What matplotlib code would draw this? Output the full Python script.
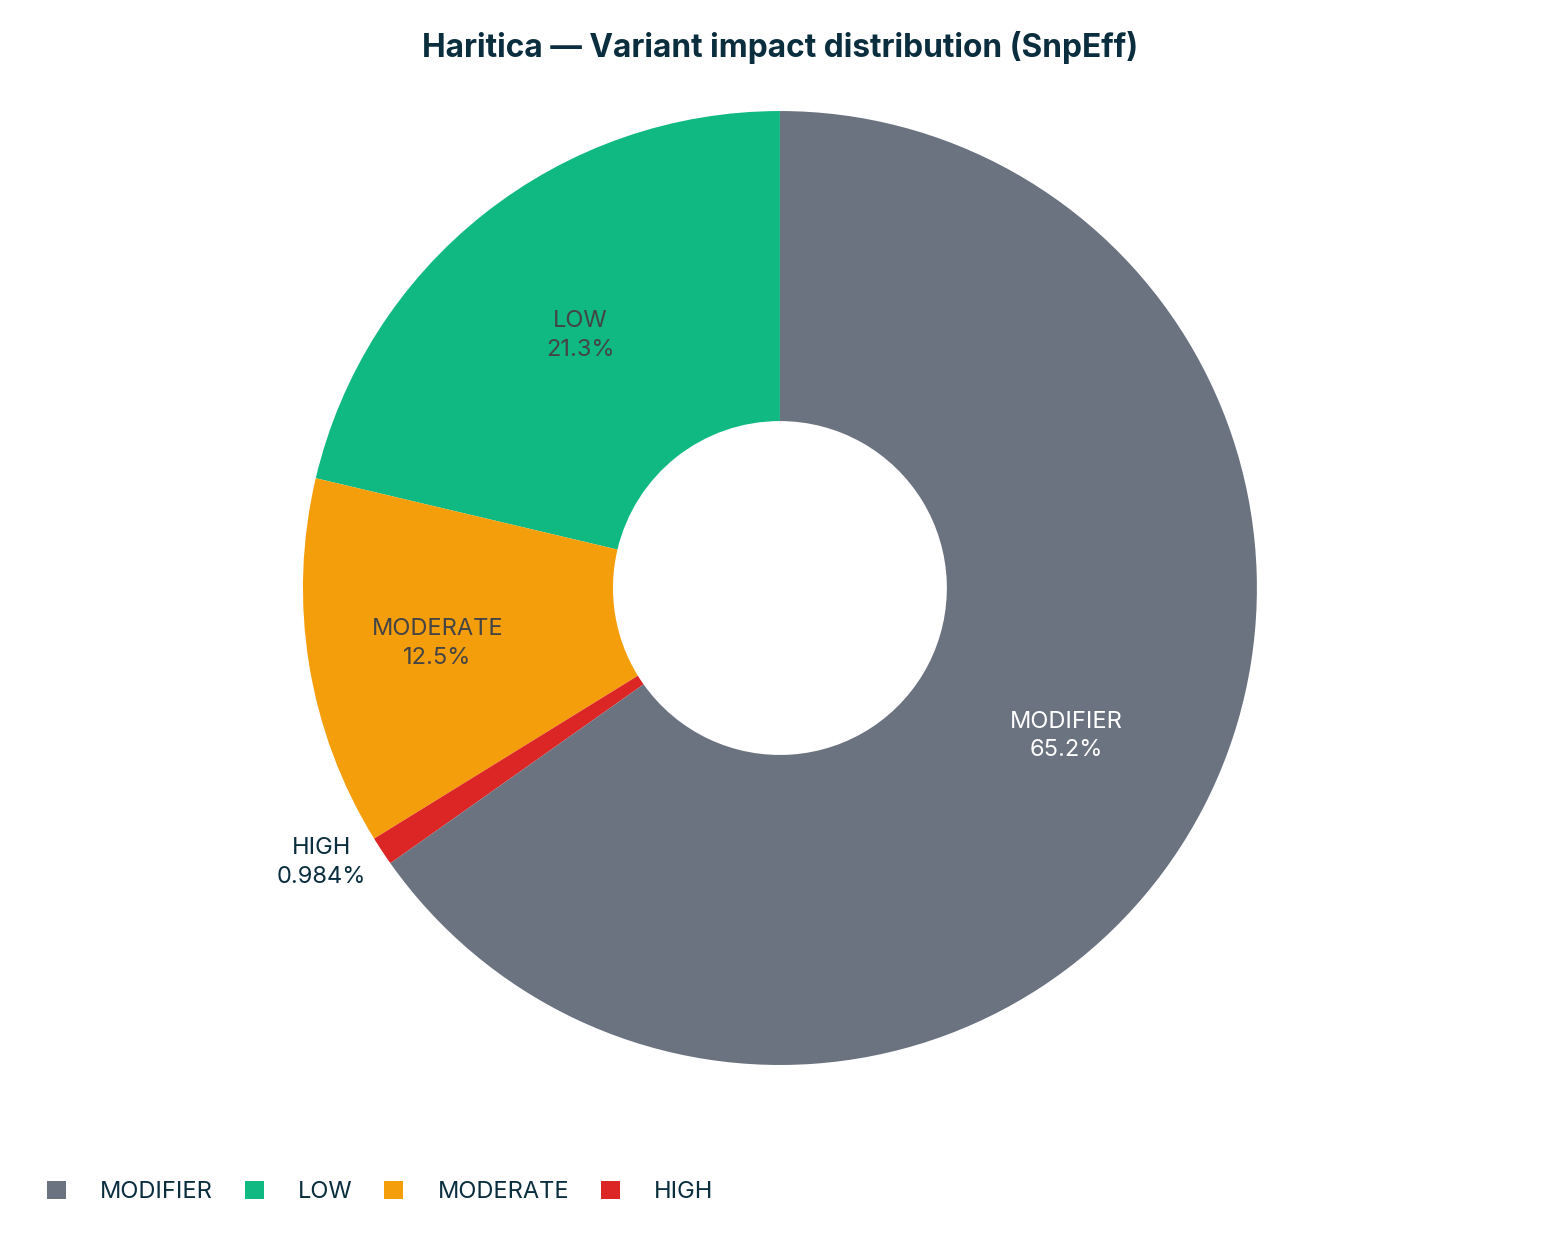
import numpy as np
import matplotlib

matplotlib.use("Agg")
import matplotlib.pyplot as plt
from matplotlib.patches import Patch

plt.rcParams["font.family"] = ["Inter", "DejaVu Sans"]

# ── Data (legend order)
labels = ["MODIFIER", "LOW", "MODERATE", "HIGH"]
shares = [65.2, 21.3, 12.5, 0.984]
pct_text = ["65.2%", "21.3%", "12.5%", "0.984%"]
colors = ["#6b7280", "#10b981", "#f59e0b", "#dc2626"]

# drawing order: counterclockwise from 12 o'clock
draw_order = [1, 2, 3, 0]

NAVY = "#0b2e3f"

fig = plt.figure(figsize=(15.6, 12.4), dpi=100)
ax = fig.add_axes([0.1942, 0.1411, 0.6115, 0.7694])

wedges, _ = ax.pie(
    [shares[i] for i in draw_order],
    colors=[colors[i] for i in draw_order],
    startangle=90,
    counterclock=True,
    radius=1.0,
    wedgeprops=dict(width=0.65, linewidth=0),
)
ax.set_xlim(-1, 1)
ax.set_ylim(-1, 1)
ax.set_aspect("equal")
ax.axis("off")

# ── Slice labels
inside_r = {"MODIFIER": 0.675, "LOW": 0.675, "MODERATE": 0.727}
text_col = {"MODIFIER": "white", "LOW": "#444444", "MODERATE": "#444444"}
for w, i in zip(wedges, draw_order):
    name = labels[i]
    mid = np.deg2rad((w.theta1 + w.theta2) / 2)
    if name in inside_r:
        r = inside_r[name]
        col = text_col[name]
        ang = mid
    else:
        r = 1.12
        col = NAVY
        ang = mid + np.deg2rad(-2.6)
    ax.text(r * np.cos(ang), r * np.sin(ang), f"{name}\n{pct_text[i]}",
            ha="center", va="center", fontsize=17, color=col,
            linespacing=1.4)

fig.text(0.5, 0.962, "Haritica \u2014 Variant impact distribution (SnpEff)",
         ha="center", va="center", fontsize=22.8, fontweight="bold", color=NAVY)

handles = [Patch(facecolor=c, edgecolor="none") for c in colors]
fig.legend(handles, labels, loc="center left", bbox_to_anchor=(0.0165, 0.0387),
           ncol=4, frameon=False, fontsize=17,
           handlelength=0.8, handleheight=0.8, handletextpad=1.45,
           columnspacing=1.35, labelcolor=NAVY)

fig.savefig("out.png", dpi=100)
